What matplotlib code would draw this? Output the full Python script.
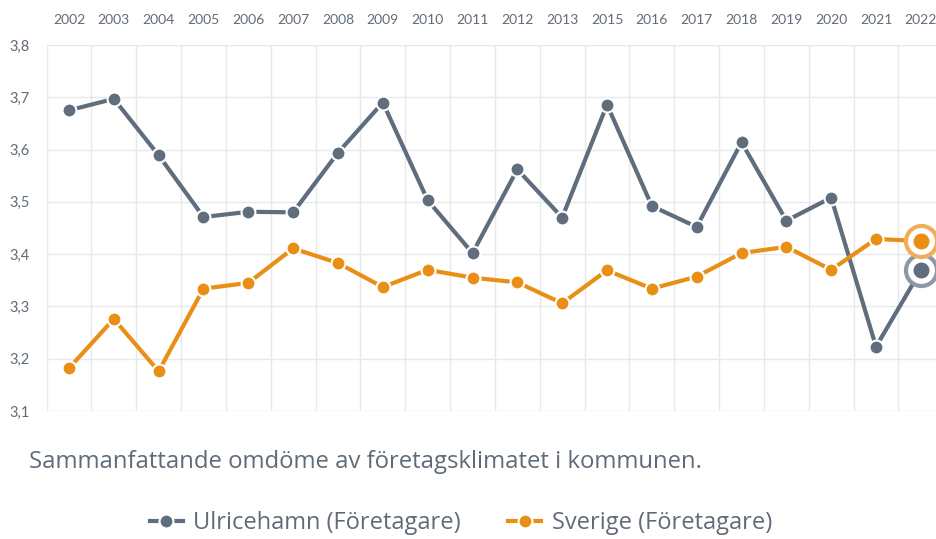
import matplotlib.pyplot as plt
import numpy as np
from matplotlib.lines import Line2D

years = ['2002', '2003', '2004', '2005', '2006', '2007', '2008', '2009', '2010',
         '2011', '2012', '2013', '2015', '2016', '2017', '2018', '2019', '2020',
         '2021', '2022']
ulricehamn = [3.675, 3.697, 3.589, 3.471, 3.481, 3.480, 3.594, 3.690, 3.503,
              3.402, 3.562, 3.470, 3.686, 3.492, 3.452, 3.614, 3.464, 3.508,
              3.223, 3.369]
sverige = [3.182, 3.276, 3.176, 3.334, 3.345, 3.411, 3.383, 3.337, 3.370,
           3.355, 3.346, 3.306, 3.369, 3.334, 3.357, 3.402, 3.414, 3.370,
           3.429, 3.425]
y_ticks = [3.1, 3.2, 3.3, 3.4, 3.5, 3.6, 3.7, 3.8]

gray = '#5f6d7d'
orange = '#e98f16'
text_col = '#606b78'
grid_col = '#e7e8ec'

plt.rcParams['font.family'] = ['Lato', 'DejaVu Sans']

fig = plt.figure(figsize=(9.37, 5.39), dpi=100)
ax = fig.add_axes([0.0497, 0.2375, 0.957, 0.679])

x = np.arange(len(years))

for vals, col, halo in [(ulricehamn, gray, '#8e98a4'), (sverige, orange, '#f0ae5c')]:
    ax.plot(x, vals, color=col, lw=3, zorder=3, solid_capstyle='round')
    ax.plot(x, vals, 'o', color=col, ms=10, mec='white', mew=1.5, zorder=4)
    ax.scatter([x[-1]], [vals[-1]], s=500, facecolor='white', edgecolor=halo,
               linewidth=3, zorder=5)
    ax.scatter([x[-1]], [vals[-1]], s=110, color=col, zorder=6)

ax.set_xlim(-0.5, len(years) - 0.5)
ax.set_ylim(3.1, 3.8)
ax.set_yticks(y_ticks)
ax.set_yticklabels([f'{v:.1f}'.replace('.', ',') for v in y_ticks])
ax.set_xticks(x)
ax.set_xticklabels(years)
ax.set_xticks(np.arange(-0.5, len(years), 1), minor=True)
ax.xaxis.tick_top()
ax.tick_params(axis='both', which='both', length=0, colors=text_col, labelsize=10)
ax.tick_params(axis='y', labelsize=10.5)
ax.tick_params(axis='x', pad=14)
ax.tick_params(axis='y', pad=12)
ax.grid(True, axis='y', which='major', color=grid_col, lw=1)
ax.grid(True, axis='x', which='minor', color=grid_col, lw=1)
ax.grid(False, axis='x', which='major')
for s in ax.spines.values():
    s.set_visible(False)
ax.set_axisbelow(True)

fig.text(0.031, 0.143, 'Sammanfattande omdöme av företagsklimatet i kommunen.',
         fontsize=17.2, color=text_col, va='center', ha='left',
         family=['Open Sans', 'DejaVu Sans'])

handles = [
    Line2D([0], [0], color=gray, lw=3, marker='o', ms=10, mec='white', mew=1.5),
    Line2D([0], [0], color=orange, lw=3, marker='o', ms=10, mec='white', mew=1.5),
]
fig.legend(handles, ['Ulricehamn (Företagare)', 'Sverige (Företagare)'],
           loc='center', bbox_to_anchor=(0.492, 0.03), ncol=2, frameon=False,
           prop={'family': ['Open Sans', 'DejaVu Sans'], 'size': 17},
           labelcolor=text_col, handlelength=1.4, columnspacing=2.0,
           handletextpad=0.45)

fig.savefig('out.png', dpi=100, facecolor='white')
